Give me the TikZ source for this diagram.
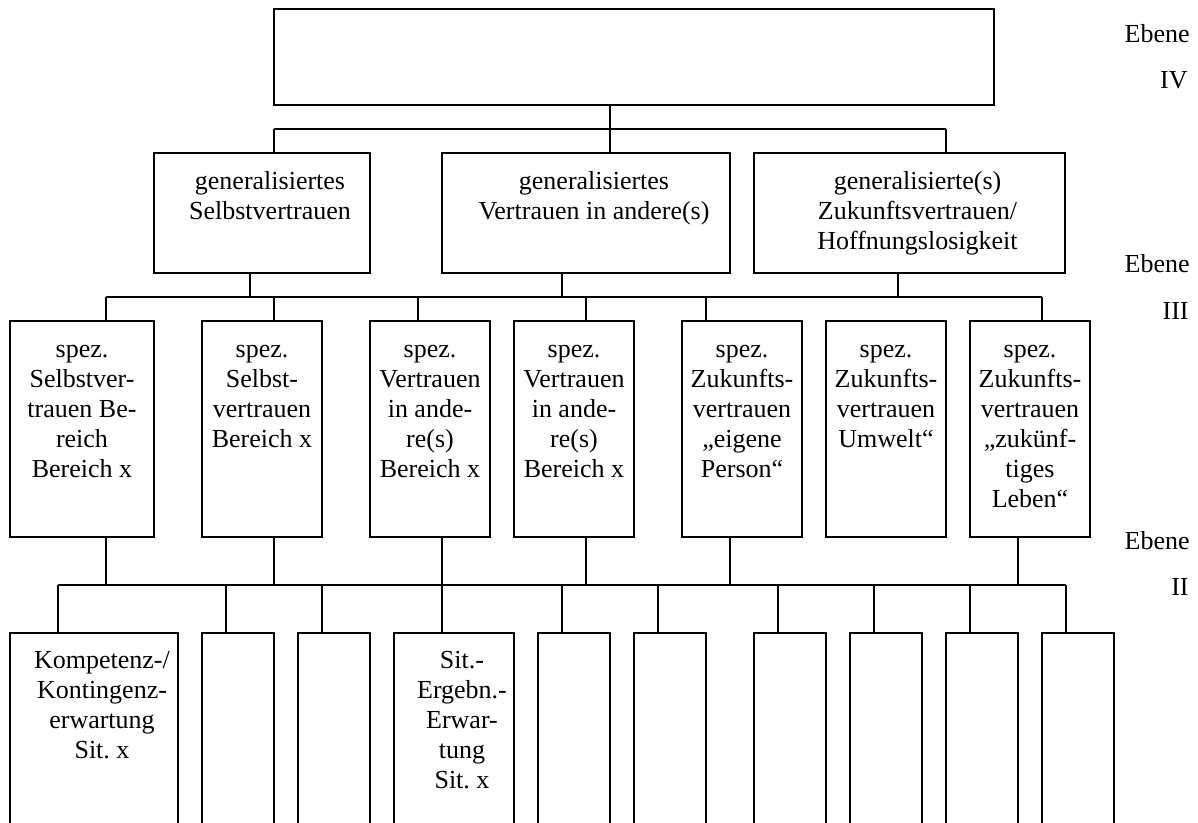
\documentclass[tikz,border=0pt]{standalone}
\usepackage{fontspec}
\setmainfont{Liberation Serif}
\frenchspacing
\begin{document}
\begin{tikzpicture}[x=0.5pt, y=-0.5pt,
  frame/.style={draw, line width=1pt, inner sep=0pt, outer sep=0pt, anchor=north west},
  gbox/.style={frame, minimum height=60pt},
  sbox/.style={frame, minimum height=108pt},
  bbox/.style={frame, minimum height=104pt},
  txt/.style={font=\fontsize{13}{15}\selectfont, align=center, inner sep=0pt, anchor=north},
  lvl/.style={font=\fontsize{13}{15}\selectfont, inner sep=0pt, anchor=base east},
  link/.style={line width=1pt}]
\useasboundingbox (0,0) rectangle (1198,823);
\clip (0,0) rectangle (1198,823);

% ---------- level IV ----------
\node[frame, minimum width=360pt, minimum height=48pt] (top) at (274,9) {};

% ---------- level III: generalised ----------
\node[gbox, minimum width=108pt]   (G1) at (154,153) {};
\node[gbox, minimum width=144pt]   (G2) at (442,153) {};
\node[gbox, minimum width=155.5pt] (G3) at (754,153) {};
\node[txt] (G1t) at ([xshift=4pt,yshift=-7.5pt]G1.north) {\strut generalisiertes\\Selbstvertrauen};
\node[txt] (G2t) at ([xshift=4pt,yshift=-7.5pt]G2.north) {\strut generalisiertes\\Vertrauen in andere(s)};
\node[txt] (G3t) at ([xshift=4pt,yshift=-7.5pt]G3.north) {\strut generalisierte(s)\\Zukunftsvertrauen/\\Hoffnungslosigkeit};

% ---------- level II: specific ----------
\node[sbox, minimum width=72pt] (S1) at (10,321) {};
\node[sbox, minimum width=60pt] (S2) at (202,321) {};
\node[sbox, minimum width=60pt] (S3) at (370,321) {};
\node[sbox, minimum width=60pt] (S4) at (514,321) {};
\node[sbox, minimum width=60pt] (S5) at (682,321) {};
\node[sbox, minimum width=60pt] (S6) at (826,321) {};
\node[sbox, minimum width=60pt] (S7) at (970,321) {};
\node[txt] (S1t) at ([yshift=-7.5pt]S1.north) {\strut spez.\\Selbstver-\\trauen Be-\\reich\\Bereich x};
\node[txt] (S2t) at ([yshift=-7.5pt]S2.north) {\strut spez.\\Selbst-\\vertrauen\\Bereich x};
\node[txt] (S3t) at ([yshift=-7.5pt]S3.north) {\strut spez.\\Vertrauen\\in ande-\\re(s)\\Bereich x};
\node[txt] (S4t) at ([yshift=-7.5pt]S4.north) {\strut spez.\\Vertrauen\\in ande-\\re(s)\\Bereich x};
\node[txt] (S5t) at ([yshift=-7.5pt]S5.north) {\strut spez.\\Zukunfts-\\vertrauen\\„eigene\\Person“};
\node[txt] (S6t) at ([yshift=-7.5pt]S6.north) {\strut spez.\\Zukunfts-\\vertrauen\\Umwelt“};
\node[txt] (S7t) at ([yshift=-7.5pt]S7.north) {\strut spez.\\Zukunfts-\\vertrauen\\„zukünf-\\tiges\\Leben“};

% ---------- level I: situations (open towards the page bottom) ----------
\node[bbox, minimum width=84pt] (B1) at (10,633) {};
\node[bbox, minimum width=36pt] (B2) at (202,633) {};
\node[bbox, minimum width=36pt] (B3) at (298,633) {};
\node[bbox, minimum width=60pt] (B4) at (394,633) {};
\node[bbox, minimum width=36pt] (B5) at (538,633) {};
\node[bbox, minimum width=36pt] (B6) at (634,633) {};
\node[bbox, minimum width=36pt] (B7) at (754,633) {};
\node[bbox, minimum width=36pt] (B8) at (850,633) {};
\node[bbox, minimum width=36pt] (B9) at (946,633) {};
\node[bbox, minimum width=36pt] (B10) at (1042,633) {};
\node[txt] (B1t) at ([xshift=4pt,yshift=-7pt]B1.north) {\strut Kompetenz-/\\Kontingenz-\\erwartung\\Sit. x};
\node[txt] (B4t) at ([xshift=4pt,yshift=-7pt]B4.north) {\strut Sit.-\\Ergebn.-\\Erwar-\\tung\\Sit. x};

% ---------- connectors IV -> III ----------
\coordinate (a1) at (274,129);
\coordinate (a2) at (610,129);
\coordinate (a3) at (946,129);
\draw[link] (top.south -| a2) -- (a2);
\draw[link] (a1) -- (a3);
\draw[link] (a1) -- (a1 |- G1.north);
\draw[link] (a2) -- (a2 |- G2.north);
\draw[link] (a3) -- (a3 |- G3.north);

% ---------- connectors III -> II ----------
\coordinate (g1) at (250,297);
\coordinate (g2) at (562,297);
\coordinate (g3) at (898,297);
\coordinate (c1) at (106,297);
\coordinate (c2) at (274,297);
\coordinate (c3) at (418,297);
\coordinate (c4) at (586,297);
\coordinate (c5) at (706,297);
\coordinate (c7) at (1042,297);
\draw[link] (G1.south -| g1) -- (g1);
\draw[link] (G2.south -| g2) -- (g2);
\draw[link] (G3.south -| g3) -- (g3);
\draw[link] (c1) -- (c7);
\draw[link] (c1) -- (c1 |- S1.north);
\draw[link] (c2) -- (c2 |- S2.north);
\draw[link] (c3) -- (c3 |- S3.north);
\draw[link] (c4) -- (c4 |- S4.north);
\draw[link] (c5) -- (c5 |- S5.north);
\draw[link] (c7) -- (c7 |- S7.north);

% ---------- connectors II -> I ----------
\coordinate (s1) at (106,585);
\coordinate (s2) at (274,585);
\coordinate (s3) at (442,585);
\coordinate (s4) at (586,585);
\coordinate (s5) at (730,585);
\coordinate (s7) at (1018,585);
\coordinate (d1) at (58,585);
\coordinate (d2) at (226,585);
\coordinate (d3) at (322,585);
\coordinate (d4) at (442,585);
\coordinate (d5) at (562,585);
\coordinate (d6) at (658,585);
\coordinate (d7) at (778,585);
\coordinate (d8) at (874,585);
\coordinate (d9) at (970,585);
\coordinate (d10) at (1066,585);
\draw[link] (S1.south -| s1) -- (s1);
\draw[link] (S2.south -| s2) -- (s2);
\draw[link] (S3.south -| s3) -- (s3);
\draw[link] (S4.south -| s4) -- (s4);
\draw[link] (S5.south -| s5) -- (s5);
\draw[link] (S7.south -| s7) -- (s7);
\draw[link] (d1) -- (d10);
\draw[link] (d1) -- (d1 |- B1.north);
\draw[link] (d2) -- (d2 |- B2.north);
\draw[link] (d3) -- (d3 |- B3.north);
\draw[link] (d4) -- (d4 |- B4.north);
\draw[link] (d5) -- (d5 |- B5.north);
\draw[link] (d6) -- (d6 |- B6.north);
\draw[link] (d7) -- (d7 |- B7.north);
\draw[link] (d8) -- (d8 |- B8.north);
\draw[link] (d9) -- (d9 |- B9.north);
\draw[link] (d10) -- (d10 |- B10.north);

% ---------- level labels ----------
\node[lvl] (L4a) at (1190,43) {Ebene};
\node[lvl] (L4b) at (1188,89) {IV};
\node[lvl] (L3a) at (1190,273) {Ebene};
\node[lvl] (L3b) at (1189,320) {III};
\node[lvl] (L2a) at (1190,549) {Ebene};
\node[lvl] (L2b) at (1189,595) {II};
\end{tikzpicture}
\end{document}
